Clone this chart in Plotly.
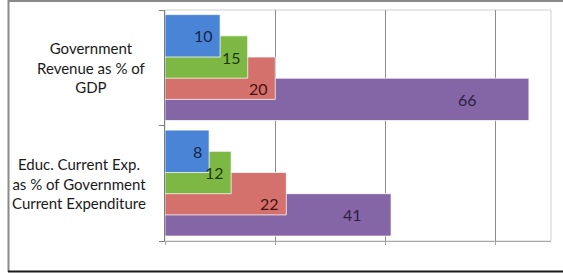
import plotly.graph_objects as go

# ---- data ----
categories = [
    "Educ. Current Exp.<br>as % of Government<br>Current Expenditure",
    "Government<br>Revenue as % of<br>GDP",
]  # bottom -> top
series_names = ["Series 1", "Series 2", "Series 3", "Series 4"]
series_values = [
    [8, 10],    # blue
    [12, 15],   # green
    [22, 20],   # red
    [41, 66],   # purple
]
x_ticks = [0, 20, 40, 60]

# ---- style ----
bar_colors = ["#4a84d6", "#7cb843", "#d4716d", "#8465a5"]
label_colors = ["#14264a", "#1f3a0a", "#4a1010", "#2e1f45"]
BAR_W = 0.367
GROUP_HALF = 0.46
FONT = "Lato, Carlito, 'Liberation Sans', sans-serif"

W, H = 563, 273
ML, MR, MT, MB = 165, 12, 10, 32
PW, PH = W - ML - MR, H - MT - MB

offsets = [GROUP_HALF - BAR_W - i * BAR_W / 2 for i in range(4)]

fig = go.Figure()
# draw from last series to first so the top bar is on top
for i in reversed(range(4)):
    fig.add_trace(go.Bar(
        y=categories, x=series_values[i], orientation="h", name=series_names[i],
        width=BAR_W, offset=offsets[i],
        marker=dict(color=bar_colors[i], line=dict(color="rgba(255,255,255,0.75)", width=1)),
        hoverinfo="x",
    ))

annotations = []
label_yshift = [0, 0, -10, 0]
for i in range(4):
    for j, v in enumerate(series_values[i]):
        yc = j + offsets[i] + BAR_W / 2
        if i == 3:
            annotations.append(dict(x=v * 0.83, y=yc, xref="x", yref="y", text=str(v),
                                    showarrow=False, xanchor="center", yanchor="middle",
                                    yshift=label_yshift[i],
                                    font=dict(family=FONT, size=16, color=label_colors[i])))
        else:
            annotations.append(dict(x=v, y=yc, xref="x", yref="y", text=str(v),
                                    showarrow=False, xanchor="right", yanchor="middle",
                                    xshift=-5, yshift=label_yshift[i],
                                    font=dict(family=FONT, size=16, color=label_colors[i])))

for j, c in enumerate(categories):
    annotations.append(dict(x=0, y=j, xref="paper", yref="y", text=c, showarrow=False,
                            xanchor="right", yanchor="middle", align="center", xshift=-17,
                            font=dict(family=FONT, size=15, color="#1a1a1a")))

def px_x(p):
    return (p - ML) / PW

def px_y(p):
    return (H - MB - p) / PH

shapes = [
    # plot area border (light)
    dict(type="rect", xref="paper", yref="paper", x0=0, x1=1, y0=0, y1=1,
         line=dict(color="#d0d0d0", width=1), layer="below"),
    # outer chart frame
    dict(type="line", xref="paper", yref="paper", x0=px_x(8), x1=px_x(570), y0=px_y(1), y1=px_y(1),
         line=dict(color="#8a8a8a", width=2)),
    dict(type="line", xref="paper", yref="paper", x0=px_x(8.5), x1=px_x(8.5), y0=px_y(0), y1=px_y(272),
         line=dict(color="#8a8a8a", width=2)),
    dict(type="line", xref="paper", yref="paper", x0=px_x(8), x1=px_x(570), y0=px_y(271.5), y1=px_y(271.5),
         line=dict(color="#1a1a1a", width=2)),
]

fig.update_layout(
    width=W, height=H,
    margin=dict(l=ML, r=MR, t=MT, b=MB),
    paper_bgcolor="white", plot_bgcolor="white",
    barmode="overlay", showlegend=False,
    annotations=annotations, shapes=shapes,
    font=dict(family=FONT),
    xaxis=dict(range=[0, 70], tickvals=x_ticks, showticklabels=False,
               showgrid=True, gridcolor="#8c8c8c", gridwidth=1,
               showline=True, linecolor="#a6a6a6", linewidth=1,
               ticks="outside", ticklen=3, tickcolor="#a6a6a6", zeroline=False),
    yaxis=dict(type="category", categoryarray=categories, range=[-0.5, 1.5],
               showticklabels=False, showgrid=False, tickson="boundaries",
               ticks="outside", ticklen=5, tickcolor="#7f7f7f",
               showline=True, linecolor="#7f7f7f", linewidth=1, zeroline=False),
)

fig.write_html("out.html", config={"displayModeBar": False},
               post_script="document.body.style.margin='0';document.body.style.overflow='hidden';")
